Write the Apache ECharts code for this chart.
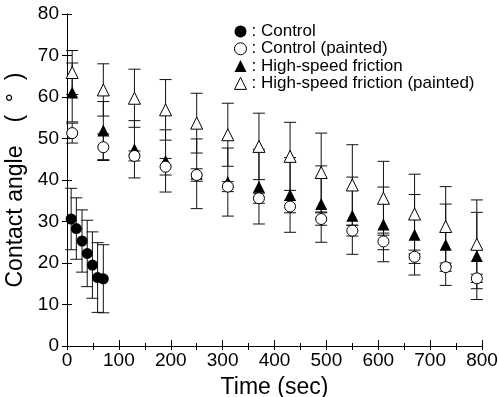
<!DOCTYPE html>
<html>
<head>
<meta charset="utf-8">
<script src="https://cdn.jsdelivr.net/npm/echarts@6/dist/echarts.min.js"></script>
<style>
  html, body { margin: 0; padding: 0; background: #fff; }
  #chart { width: 499px; height: 397px; }
</style>
</head>
<body>
<div id="chart"></div>
<script>
// Control (unpainted) - short early measurements
const ctrlTime = [8, 18, 29, 39, 49, 59, 70];
const ctrlAngle = [30.6, 28.3, 25.3, 22.3, 19.5, 16.5, 16.2];
const ctrlErr = [7.4, 7.4, 7.5, 8.0, 8.0, 8.4, 8.2];

// painted samples + high-speed friction share the same times
const timeP = [10, 70, 130, 190, 250, 310, 370, 430, 490, 550, 610, 670, 730, 790];
const ctrlPaintedAngle = [51.3, 47.9, 45.8, 43.2, 41.2, 38.4, 35.6, 33.6, 30.6, 27.8, 25.2, 21.5, 19.0, 16.3];
const ctrlPaintedErr = [2.4, 3.2, 1.2, 2.0, 1.5, 1.2, 1.2, 1.5, 1.5, 1.3, 2.0, 1.6, 1.0, 1.0];
const hsfAngle = [61.1, 51.9, 47.4, 44.6, 41.5, 39.5, 38.4, 36.4, 34.2, 31.4, 29.3, 26.8, 24.4, 21.7];
const hsfErr = [7.1, 7.0, 6.9, 7.5, 8.4, 8.2, 9.0, 9.0, 9.2, 9.3, 9.0, 9.7, 9.8, 10.5];
const hsfPaintedAngle = [65.9, 61.7, 59.7, 56.9, 53.7, 50.9, 48.1, 45.7, 41.8, 38.8, 35.6, 31.8, 28.8, 24.5];
const hsfPaintedErr = [5.3, 6.3, 7.0, 7.3, 7.2, 7.6, 8.0, 8.2, 9.5, 9.7, 8.9, 9.6, 9.6, 10.7];

const names = ['Control', 'Control (painted)', 'High-speed friction', 'High-speed friction (painted)'];
const FONT = '"Liberation Sans", Arial, Helvetica, sans-serif';

function pairs(xs, ys) {
  return xs.map((x, i) => [x, ys[i]]);
}
function errData(xs, ys, es) {
  return xs.map((x, i) => [x, ys[i] - es[i], ys[i] + es[i]]);
}

// vertical bar with caps
function renderErr(params, api) {
  const x = api.value(0);
  const lo = api.coord([x, api.value(1)]);
  const hi = api.coord([x, api.value(2)]);
  const w = 6;
  const st = { stroke: '#111', lineWidth: 1 };
  return {
    type: 'group',
    children: [
      { type: 'line', shape: { x1: lo[0], y1: lo[1], x2: hi[0], y2: hi[1] }, style: st },
      { type: 'line', shape: { x1: lo[0] - w, y1: lo[1], x2: lo[0] + w, y2: lo[1] }, style: st },
      { type: 'line', shape: { x1: hi[0] - w, y1: hi[1], x2: hi[0] + w, y2: hi[1] }, style: st }
    ]
  };
}

function errSeries(data) {
  return {
    type: 'custom',
    renderItem: renderErr,
    encode: { x: 0, y: [1, 2] },
    data: data,
    z: 1,
    silent: true
  };
}

const filled = { color: '#000', opacity: 1 };
const open = { color: '#fff', borderColor: '#000', borderWidth: 1, opacity: 1 };

const chart = echarts.init(document.getElementById('chart'));
chart.setOption({
  animation: false,
  backgroundColor: '#fff',
  textStyle: { fontFamily: FONT },
  grid: { left: 67, right: 17, top: 14, bottom: 51, containLabel: false, outerBoundsMode: 'none' },
  legend: {
    orient: 'vertical',
    left: 234,
    top: 23,
    itemWidth: 12,
    itemHeight: 12,
    itemGap: 0.3,
    padding: 0,
    textStyle: { fontSize: 17, color: '#000', lineHeight: 16, fontFamily: FONT },
    formatter: (n) => ': ' + n,
    data: [
      { name: names[0], icon: 'circle', itemStyle: filled },
      { name: names[1], icon: 'circle', itemStyle: open },
      { name: names[2], icon: 'triangle', itemStyle: filled },
      { name: names[3], icon: 'triangle', itemStyle: open }
    ]
  },
  xAxis: [
    {
      type: 'value', min: 0, max: 800, interval: 100, position: 'bottom',
      name: 'Time (sec)', nameLocation: 'middle', nameGap: 30,
      nameTextStyle: { fontSize: 23, color: '#000', fontFamily: FONT },
      axisLine: { lineStyle: { color: '#000', width: 1 } },
      axisTick: { inside: true, length: 6, lineStyle: { color: '#000' } },
      minorTick: { show: true, splitNumber: 2, length: 3, lineStyle: { color: '#000' } },
      axisLabel: { fontSize: 19, color: '#000', margin: 5, fontFamily: FONT },
      splitLine: { show: false }
    },
    {
      type: 'value', min: 0, max: 800, interval: 50, position: 'top',
      axisLine: { lineStyle: { color: '#000', width: 1 } },
      axisTick: { inside: true, length: 4, lineStyle: { color: '#000' } },
      axisLabel: { show: false },
      splitLine: { show: false }
    }
  ],
  yAxis: [
    {
      type: 'value', min: 0, max: 80, interval: 10, position: 'left',
      name: 'Contact angle\u3000(  \u00b0  )', nameLocation: 'middle', nameGap: 32, nameRotate: 90,
      nameTextStyle: { fontSize: 23, color: '#000', fontFamily: FONT },
      axisLine: { show: true, lineStyle: { color: '#000', width: 1 } },
      axisTick: { show: true, inside: true, length: 5, lineStyle: { color: '#000' } },
      axisLabel: { fontSize: 19, color: '#000', margin: 8, fontFamily: FONT },
      splitLine: { show: false }
    },
    {
      type: 'value', min: 0, max: 80, interval: 10, position: 'right',
      axisLine: { show: true, lineStyle: { color: '#000', width: 1 } },
      axisTick: { show: true, inside: true, length: 5, lineStyle: { color: '#000' } },
      axisLabel: { show: false },
      splitLine: { show: false }
    }
  ],
  series: [
    errSeries(errData(timeP, hsfAngle, hsfErr)),
    errSeries(errData(timeP, hsfPaintedAngle, hsfPaintedErr)),
    errSeries(errData(timeP, ctrlPaintedAngle, ctrlPaintedErr)),
    errSeries(errData(ctrlTime, ctrlAngle, ctrlErr)),
    {
      name: names[2], type: 'scatter', symbol: 'triangle', symbolSize: 12,
      itemStyle: filled, data: pairs(timeP, hsfAngle), z: 2
    },
    {
      name: names[3], type: 'scatter', symbol: 'triangle', symbolSize: 12,
      itemStyle: open, data: pairs(timeP, hsfPaintedAngle), z: 3
    },
    {
      name: names[1], type: 'scatter', symbol: 'circle', symbolSize: 11,
      itemStyle: open, data: pairs(timeP, ctrlPaintedAngle), z: 4
    },
    {
      name: names[0], type: 'scatter', symbol: 'circle', symbolSize: 11,
      itemStyle: filled, data: pairs(ctrlTime, ctrlAngle), z: 5
    }
  ]
});
</script>
</body>
</html>
